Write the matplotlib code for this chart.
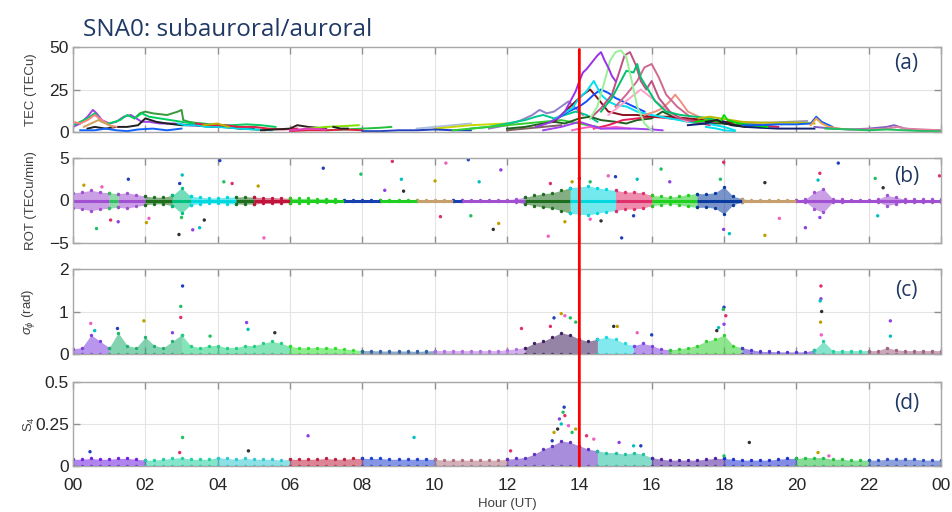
import numpy as np
import matplotlib
matplotlib.use('Agg')
import matplotlib.pyplot as plt
from matplotlib.patches import ConnectionPatch

plt.rcParams['font.family'] = ['Liberation Sans', 'DejaVu Sans']
plt.rcParams['mathtext.fontset'] = 'custom'
plt.rcParams['mathtext.rm'] = 'Liberation Sans'
plt.rcParams['mathtext.it'] = 'Liberation Sans:italic'

# ---------------- data ----------------
# hour ticks
hour_ticks = [0, 2, 4, 6, 8, 10, 12, 14, 16, 18, 20, 22, 24]
hour_labels = ['00', '02', '04', '06', '08', '10', '12', '14', '16', '18', '20', '22', '00']
storm_hour = 14.0

# (a) TEC tracks, one pair of lists per satellite (hour, TECu)
tec_t_g1 = [1.7, 1.85, 2.0, 2.2, 2.4, 2.6, 2.75, 2.9, 3.0, 3.05, 3.2, 3.5, 3.8, 4.1, 4.4, 4.7, 5.0, 5.3]
tec_v_g1 = [8, 11, 12, 11, 10.5, 10, 11, 12, 13, 7, 6, 5, 4, 3, 2.5, 2, 1.5, 1]
tec_t_p1 = [0.0, 0.2, 0.4, 0.55, 0.65, 0.8, 1.0, 1.2, 1.4, 1.6, 1.75, 1.9, 2.1, 2.4, 2.8, 3.2, 3.6]
tec_v_p1 = [3, 5, 9, 13, 11, 7, 5, 6, 9, 10, 8, 6, 6, 5, 5, 4, 3.5]
tec_t_g2 = [0, 0.2, 0.4, 0.6, 0.8, 1.0, 1.3, 1.5, 1.7, 1.9, 2.1, 2.4, 2.7, 3.0, 3.3, 3.6, 4.0, 4.4, 4.8, 5.2, 5.6]
tec_v_g2 = [4, 6, 8, 11, 6, 5, 7, 10, 8, 11, 9, 8, 7, 6, 5, 5, 4, 4, 4.5, 4, 3]
tec_t_k1 = [0.4, 0.6, 0.9, 1.2, 1.5, 1.8, 2.0, 2.3, 2.6, 3.0, 3.4, 3.8, 4.2, 4.6, 5.0]
tec_v_k1 = [2, 3, 2, 3, 3, 4, 8, 6, 5, 4, 4, 3, 3, 2, 2]
tec_t_c1 = [2.9, 3.1, 3.4, 3.7, 4.0, 4.3, 4.6, 5.0, 5.5]
tec_v_c1 = [5, 4, 4, 3, 3, 2.5, 2, 1.5, 1]
tec_t_b1 = [0.2, 0.6, 0.9, 1.2, 1.5, 1.8, 2.2, 2.6, 3.0]
tec_v_b1 = [1, 1, 2, 1, 0.5, 1.5, 2, 1, 2]
tec_t_s1 = [0, 0.2, 0.4, 0.6, 0.8, 1.0, 1.2]
tec_v_s1 = [6, 5, 7, 10, 7, 4, 3]
tec_t_o1 = [0.3, 0.5, 0.7, 0.9, 1.1]
tec_v_o1 = [3, 5, 7, 5, 3]
tec_t_r1 = [3.4, 3.8, 4.2, 4.6, 5.0, 5.4, 5.8, 6.2]
tec_v_r1 = [5, 4, 4, 3, 3, 2, 1.5, 2]
tec_t_y1 = [3.6, 4.0, 4.3]
tec_v_y1 = [4, 5, 3]
tec_t_k2 = [5.2, 5.6, 6.0, 6.2, 6.5, 7.0]
tec_v_k2 = [1, 1.5, 2, 4, 3, 2]
tec_t_l1 = [6.5, 7.0, 7.5, 7.9]
tec_v_l1 = [2, 3, 3.5, 4]
tec_t_g3 = [7.0, 7.5, 8.0, 8.5, 8.8]
tec_v_g3 = [1, 1.5, 2, 2.5, 3]
tec_t_st = [9.5, 10.0, 10.5, 11.0]
tec_v_st = [2, 3, 4, 5]
tec_t_y2 = [10.0, 10.5, 11.0, 11.5, 12.0]
tec_v_y2 = [2, 3, 4, 4.5, 5]
tec_t_r2 = [6.0, 6.5, 7.0, 7.5, 8.0]
tec_v_r2 = [0.5, 1, 1, 1.5, 1]
tec_t_b2 = [8.0, 8.5, 9.0, 9.5, 10, 10.5, 11]
tec_v_b2 = [0.5, 0.5, 1, 1, 1.5, 1, 1]
tec_t_k3 = [7.2, 7.4, 7.6]
tec_v_k3 = [3, 2, 2]
tec_t_m1 = [6, 6.5, 7]
tec_v_m1 = [1, 2, 1.5]
tec_t_lv = [11.5, 12.0, 12.4, 12.7, 12.9, 13.1, 13.3, 13.5, 13.7, 13.9, 14.1]
tec_v_lv = [2, 4, 7, 10, 13, 11, 12, 15, 18, 14, 10]
tec_t_tg = [11.0, 11.5, 12.0, 12.5, 12.8, 13.0, 13.3, 13.6, 13.9, 14.2, 14.5]
tec_v_tg = [2, 3, 5, 7, 9, 10, 8, 10, 12, 10, 6]
tec_t_g4 = [10.5, 11.0, 11.5, 12.0, 12.5, 13.0, 13.5, 14.0, 14.5]
tec_v_g4 = [1, 2, 3, 4, 5, 6, 7, 5, 3]
tec_t_dg = [12.0, 12.5, 13.0, 13.3, 13.6, 14.0, 14.3, 14.6, 15.0, 15.3, 15.6, 16.0, 16.3, 16.6, 17.0, 17.5, 18.0, 18.5, 19.0]
tec_v_dg = [2, 3, 5, 6, 5, 8, 9, 7, 6, 5, 7, 8, 12, 9, 6, 5, 5, 4, 3]
tec_t_pb = [12.8, 13.1, 13.4, 13.6, 13.8, 13.9, 14.0, 14.1, 14.2, 14.35, 14.5, 14.6, 14.7, 14.8, 14.9, 15.0]
tec_v_pb = [3, 5, 8, 12, 20, 24, 30, 35, 37, 41, 45, 47, 42, 38, 33, 30]
tec_t_pl = [13.0, 13.5, 14.0, 14.3, 14.6, 15.0, 15.5, 16.0, 16.3]
tec_v_pl = [1, 3, 6, 4, 2, 2, 2, 1.5, 1]
tec_t_lg = [14.3, 14.5, 14.7, 14.85, 15.0, 15.15, 15.3, 15.45, 15.6, 15.8, 16.0]
tec_v_lg = [8, 15, 30, 42, 47, 48, 44, 30, 15, 5, 1]
tec_t_mv = [14.3, 14.6, 14.9, 15.1, 15.25, 15.4, 15.55, 15.7, 15.85, 16.0, 16.2, 16.5, 16.8, 17.2, 17.6]
tec_v_mv = [8, 14, 22, 35, 45, 47, 40, 30, 25, 30, 20, 12, 8, 6, 4]
tec_t_rs = [15.0, 15.3, 15.6, 15.8, 16.0, 16.2, 16.4, 16.7, 17.0]
tec_v_rs = [15, 22, 30, 38, 40, 32, 22, 15, 10]
tec_t_te = [14.6, 14.9, 15.1, 15.3, 15.5, 15.6, 15.7, 15.9, 16.1, 16.4, 16.8, 17.2, 17.6, 18.0]
tec_v_te = [12, 20, 28, 36, 35, 40, 32, 25, 18, 12, 10, 9, 8, 6]
tec_t_b3 = [13.4, 13.7, 14.0, 14.2, 14.4, 14.6, 14.8, 15.0, 15.2, 15.4, 15.6, 15.8]
tec_v_b3 = [8, 12, 15, 18, 22, 25, 23, 20, 18, 16, 14, 12]
tec_t_c2 = [13.2, 13.5, 13.8, 14.0, 14.2, 14.4, 14.6, 14.8, 15.0, 15.3, 15.6, 16.0, 16.5, 17.0, 17.5, 18.0, 18.3]
tec_v_c2 = [6, 10, 14, 20, 24, 30, 22, 18, 16, 15, 12, 10, 8, 6, 5, 3, 1]
tec_t_dr = [13.3, 13.6, 13.9, 14.1, 14.3, 14.5, 14.8, 15.2, 15.6, 16.0, 16.5, 17.0, 17.5, 18.0, 18.5, 19.0]
tec_v_dr = [6, 12, 18, 22, 25, 20, 12, 10, 10, 9, 9, 8, 7, 6, 5, 4]
tec_t_pk = [14.8, 15.1, 15.4, 15.7, 16.0, 16.3, 16.6, 17.0]
tec_v_pk = [10, 15, 20, 25, 20, 15, 10, 6]
tec_t_s2 = [15.8, 16.1, 16.3, 16.5, 16.65, 16.8, 17.0, 17.3, 17.6]
tec_v_s2 = [10, 12, 14, 18, 22, 18, 12, 9, 7]
tec_t_cr = [14.4, 14.8, 15.2, 15.6, 16.0, 16.5, 17.0, 17.5, 18.0, 18.5, 19.0, 19.5]
tec_v_cr = [2, 4, 7, 8, 9, 8, 7, 6, 6, 5, 4, 3]
tec_t_m2 = [13.8, 14.0, 14.3, 14.6, 15.0, 15.4]
tec_v_m2 = [1, 2, 3, 2, 3, 2]
tec_t_gb = [12.0, 12.5, 13.0, 13.5]
tec_v_gb = [1, 2, 3, 4]
tec_t_ol = [17.3, 17.6, 17.9, 18.2, 18.5, 19.0, 19.5, 20.0, 20.5]
tec_v_ol = [8, 9, 8, 7, 6, 5.5, 5.5, 5.5, 5]
tec_t_nv = [17.0, 17.5, 17.8, 18.0, 18.2, 18.6, 19.0, 19.5, 20.0, 20.5]
tec_v_nv = [4, 5, 7, 6, 4, 3, 2.5, 2, 2, 2]
tec_t_g5 = [17.2, 17.6, 17.9, 18.0, 18.1, 18.4, 18.8, 19.2]
tec_v_g5 = [6, 7, 6, 10, 7, 5, 4, 3]
tec_t_k4 = [17.5, 17.8, 18.0, 18.3, 18.6]
tec_v_k4 = [6, 7, 5, 4, 3]
tec_t_c3 = [17.5, 17.8, 18.0, 18.3]
tec_v_c3 = [3, 2, 1, 0.5]
tec_t_b4 = [18.5, 19.0, 19.5, 20.0, 20.4, 20.55, 20.7, 21.0]
tec_v_b4 = [4, 4, 4.5, 4.5, 5, 9, 6, 3]
tec_t_o2 = [20.4, 20.55, 20.7, 20.9, 21.2]
tec_v_o2 = [4, 8, 5, 3, 2]
tec_t_p3 = [20.5, 21, 21.5, 22, 22.5, 22.7, 23, 23.5, 24]
tec_v_p3 = [3, 2, 1.5, 2, 3, 4, 2, 1, 1]
tec_t_p4 = [21, 21.5, 22, 22.5, 22.8, 23, 23.5, 24]
tec_v_p4 = [2, 1.5, 1.5, 2, 3, 2, 1.5, 1]
tec_t_g6 = [20.8, 21.5, 22, 22.5, 23, 23.5, 24]
tec_v_g6 = [2, 1.5, 1, 1.5, 1, 0.5, 0.5]
tec_t_gr = [18.3, 18.8, 19.3, 19.8, 20.3]
tec_v_gr = [5, 5.5, 5.5, 6, 6.5]

# (b)-(d) envelopes of the dense scatter, read every quarter hour
env_hours = np.arange(0, 24.01, 0.25)
rot_amp = [0.9, 1.0, 1.2, 1.0, 0.9, 0.8, 0.9, 0.7, 0.5, 0.4, 0.4, 0.6,
           1.5, 0.5, 0.4, 0.3, 0.3, 0.4, 0.4, 0.45, 0.4, 0.35, 0.35, 0.3,
           0.25, 0.25, 0.25, 0.2, 0.2, 0.15, 0.08, 0.06, 0.06, 0.06, 0.06, 0.08,
           0.08, 0.06, 0.06, 0.06, 0.06, 0.06, 0.06, 0.06, 0.06, 0.06, 0.06, 0.06,
           0.1, 0.2, 0.4, 0.6, 0.8, 0.9, 1.2, 1.5, 1.6, 1.7, 1.5, 1.3,
           1.2, 1.0, 1.0, 0.9, 0.6, 0.5, 0.4, 0.5, 0.7, 0.8, 0.8, 0.9,
           1.6, 0.5, 0.2, 0.1, 0.08, 0.08, 0.08, 0.1, 0.1, 0.15, 1.0, 1.4,
           0.2, 0.12, 0.1, 0.1, 0.1, 0.15, 0.6, 0.4, 0.15, 0.12, 0.12, 0.12, 0.12]
sig_top = [0.12, 0.15, 0.45, 0.3, 0.15, 0.5, 0.2, 0.15, 0.4, 0.2, 0.15, 0.3,
           0.45, 0.2, 0.15, 0.2, 0.2, 0.15, 0.15, 0.2, 0.2, 0.25, 0.3, 0.25,
           0.18, 0.15, 0.15, 0.15, 0.15, 0.14, 0.12, 0.1, 0.08, 0.08, 0.07, 0.07,
           0.07, 0.07, 0.06, 0.07, 0.08, 0.08, 0.08, 0.08, 0.08, 0.08, 0.08, 0.08,
           0.1, 0.12, 0.15, 0.25, 0.3, 0.4, 0.5, 0.45, 0.35, 0.3, 0.35, 0.4,
           0.35, 0.25, 0.2, 0.25, 0.2, 0.12, 0.1, 0.12, 0.15, 0.2, 0.3, 0.35,
           0.45, 0.2, 0.15, 0.1, 0.06, 0.06, 0.05, 0.05, 0.05, 0.05, 0.1, 0.3,
           0.08, 0.08, 0.08, 0.08, 0.08, 0.08, 0.15, 0.1, 0.08, 0.08, 0.08, 0.08, 0.08]
s4_top = [0.04, 0.04, 0.045, 0.04, 0.04, 0.045, 0.045, 0.04, 0.035, 0.035, 0.04, 0.045,
          0.05, 0.04, 0.04, 0.04, 0.05, 0.045, 0.04, 0.045, 0.04, 0.04, 0.04, 0.035,
          0.04, 0.04, 0.04, 0.04, 0.045, 0.04, 0.04, 0.045, 0.045, 0.045, 0.045, 0.04,
          0.04, 0.04, 0.04, 0.04, 0.04, 0.035, 0.035, 0.035, 0.035, 0.035, 0.035, 0.035,
          0.04, 0.045, 0.05, 0.07, 0.1, 0.12, 0.15, 0.14, 0.12, 0.1, 0.09, 0.08,
          0.08, 0.07, 0.08, 0.07, 0.05, 0.04, 0.035, 0.035, 0.035, 0.035, 0.04, 0.045,
          0.045, 0.04, 0.035, 0.035, 0.035, 0.035, 0.04, 0.045, 0.045, 0.05, 0.05, 0.05,
          0.04, 0.04, 0.035, 0.035, 0.035, 0.035, 0.04, 0.04, 0.04, 0.04, 0.035, 0.035, 0.035]

# colour blocks of the scatter clouds (start hour, end hour, colour)
rot_blocks = [(0, 1, '#a050d0'), (1, 1.25, '#30c060'), (1.25, 2, '#a050d0'), (2, 2.75, '#1e6e1e'),
              (2.75, 3.25, '#00c080'), (3.25, 4.5, '#00d8e0'), (4.5, 5, '#1e6e1e'), (5, 6, '#c0143c'),
              (6, 7.5, '#20d020'), (7.5, 8.5, '#1840b0'), (8.5, 9.5, '#20d020'), (9.5, 10.5, '#c8a070'),
              (10.5, 10.75, '#1840b0'), (10.75, 12.5, '#a050d0'), (12.5, 13.75, '#1e6e1e'),
              (13.75, 15, '#00d8e0'), (15, 16, '#e0306a'), (16, 17.25, '#20d020'), (17.25, 18.5, '#0a3ca0'),
              (18.5, 20, '#c8a070'), (20, 24, '#a050d0')]
sig_blocks = [(0, 1, '#8040e0'), (1, 3, '#20b070'), (3, 6, '#20d080'), (6, 8, '#30e030'),
              (8, 10, '#3060a0'), (10, 12.5, '#b070e0'), (12.5, 14.5, '#402060'), (14.5, 15.5, '#20d8e0'),
              (15.5, 16.5, '#8040e0'), (16.5, 18.5, '#30d030'), (18.5, 20.5, '#5030d0'),
              (20.5, 22, '#20d0a0'), (22, 24, '#a06080')]
s4_blocks = [(0, 2, '#7020e0'), (2, 4, '#20d0a0'), (4, 6, '#30c8d0'), (6, 8, '#c02040'),
             (8, 10, '#2040d0'), (10, 12, '#b07080'), (12, 14.5, '#6030c0'), (14.5, 16, '#20c0a0'),
             (16, 18, '#5020a0'), (18, 20, '#2030d0'), (20, 22, '#20c040'), (22, 24, '#3050c0')]

# isolated points outside the clouds (hour, value)
rot_out_t = [1.53, 0.65, 1.04, 1.25, 3.02, 2.93, 2.03, 2.1, 4.06, 4.17, 4.4, 3.31, 3.5, 3.63, 5.12, 5.28,
             6.92, 7.96, 8.83, 8.62, 9.08, 9.14, 10.01, 10.31, 10.93, 11.0, 10.16, 11.83, 11.23, 11.62,
             11.77, 13.14, 15.17, 16.26, 17.99, 17.99, 18.15, 19.13, 19.13, 19.53, 21.16, 22.18, 23.96,
             20.25, 22.25, 14.0, 13.8, 14.8, 15.0, 14.3, 13.2, 16.5, 15.6, 14.6, 13.6, 14.3, 15.5, 17.9,
             20.65, 20.65, 20.6, 22.4, 0.3, 0.8, 2.95, 3.0]
rot_out_v = [2.5, -3.3, -2.3, -2.5, 3.0, -4.0, -2.6, -2.1, 4.7, 2.2, 2.0, -3.45, -3.2, -2.3, 1.7, -4.4,
             3.8, 3.1, 4.6, 1.2, 2.5, 1.1, 2.3, 4.4, 4.8, -1.8, -1.9, 3.6, 2.2, -3.4,
             -2.7, -4.2, -4.4, 3.7, 4.5, -3.4, -3.9, 2.1, -4.1, -2.1, 4.4, 2.6, 2.9,
             -3.2, -1.8, 2.6, 2.2, 2.9, 2.8, 2.2, 2.0, 2.2, 2.5, -2.4, -2.5, -2.2, -1.8, 2.5,
             3.2, -2.0, 2.4, 1.5, 1.8, 1.6, 2.0, -2.0]
sig_out_t = [3.03, 2.98, 2.98, 4.8, 4.84, 5.58, 1.96, 0.49, 1.23, 3.79, 20.68, 20.68, 20.66, 20.7,
             20.67, 20.69, 18.0, 17.98, 18.05, 18.0, 17.85, 17.8, 13.5, 13.6, 13.3, 13.75, 12.4,
             22.6, 22.6, 14.95, 15.05, 15.6, 16.0, 13.9, 13.2, 2.75, 0.6]
sig_out_v = [1.6, 1.12, 0.86, 0.74, 0.58, 0.5, 0.78, 0.72, 0.6, 0.42, 1.6, 1.3, 1.25, 1.0,
             0.75, 0.45, 1.1, 1.05, 0.9, 0.7, 0.62, 0.55, 0.95, 0.9, 0.85, 0.85, 0.6,
             0.78, 0.42, 0.65, 0.65, 0.5, 0.45, 0.75, 0.65, 0.5, 0.55]
s4_out_t = [13.58, 13.55, 13.6, 13.45, 13.5, 13.4, 13.3, 13.7, 13.25, 13.8, 14.2, 15.1, 15.5, 18.7,
            20.6, 20.9, 0.47, 3.03, 2.95, 6.5, 9.43, 4.85, 13.9, 14.4, 15.7, 18.0, 12.1]
s4_out_v = [0.35, 0.32, 0.3, 0.28, 0.25, 0.22, 0.2, 0.24, 0.15, 0.2, 0.18, 0.14, 0.12, 0.14,
            0.08, 0.06, 0.085, 0.17, 0.08, 0.18, 0.17, 0.09, 0.22, 0.16, 0.12, 0.06, 0.09]

dot_colors = ['#1f3fbf', '#20c060', '#e0306a', '#9040e0', '#00c0c0', '#303030', '#c0a000', '#f060c0']


def style_axes(ax, yticks, ylabel, ylim, tag, tag_y):
    ax.set_xlim(0, 24)
    ax.set_ylim(*ylim)
    ax.set_xticks(hour_ticks)
    ax.set_yticks(yticks)
    ax.grid(True, color='#e4e4e4', lw=0.8)
    ax.set_axisbelow(True)
    for s in ax.spines.values():
        s.set_color('#a8a8a8')
        s.set_linewidth(1.0)
    ax.tick_params(direction='in', top=True, right=True, length=5, width=1,
                   color='#909090', labelsize=12.5, labelcolor='#262626', pad=3)
    ax.tick_params(axis='x', pad=9)
    ax.set_ylabel(ylabel, fontsize=9.5, color='#404040')
    ax.yaxis.set_label_coords(-0.042, 0.5)
    ax.text(0.96, tag_y, tag, transform=ax.transAxes, ha='center', va='center',
            fontsize=15, color='#1f3864', family=['Open Sans', 'DejaVu Sans'])


def draw_cloud(ax, lower, upper, blocks, mid=None):
    low = np.asarray(lower)
    up = np.asarray(upper)
    for a, b, c in blocks:
        m = (env_hours >= a) & (env_hours <= b)
        ax.fill_between(env_hours[m], low[m], up[m], color=c, alpha=0.55, lw=0)
        ax.scatter(env_hours[m], up[m], s=6, color=c, lw=0)
        ax.scatter(env_hours[m], low[m], s=6, color=c, lw=0)
        if mid is not None:
            ax.plot(env_hours[m], np.full(m.sum(), mid), color=c, lw=2.2, solid_capstyle='butt')


fig = plt.figure(figsize=(9.52, 5.12), dpi=100)
left, width = 73 / 952, 868 / 952
ax_a = fig.add_axes([left, 1 - 132 / 512, width, 85 / 512])
ax_b = fig.add_axes([left, 1 - 243 / 512, width, 85 / 512])
ax_c = fig.add_axes([left, 1 - 354 / 512, width, 85 / 512])
ax_d = fig.add_axes([left, 1 - 466 / 512, width, 84 / 512])

# (a) TEC
tec_tracks = [
    (tec_t_g1, tec_v_g1, '#3a9a3a'), (tec_t_p1, tec_v_p1, '#a040e0'), (tec_t_g2, tec_v_g2, '#00d060'),
    (tec_t_k1, tec_v_k1, '#202020'), (tec_t_c1, tec_v_c1, '#00d8e8'), (tec_t_b1, tec_v_b1, '#1060ff'),
    (tec_t_s1, tec_v_s1, '#ff8080'), (tec_t_o1, tec_v_o1, '#d0a060'), (tec_t_r1, tec_v_r1, '#e0204a'),
    (tec_t_y1, tec_v_y1, '#c0b000'), (tec_t_k2, tec_v_k2, '#302020'), (tec_t_l1, tec_v_l1, '#80e000'),
    (tec_t_g3, tec_v_g3, '#20c040'), (tec_t_st, tec_v_st, '#b0c0e0'), (tec_t_y2, tec_v_y2, '#c8d800'),
    (tec_t_r2, tec_v_r2, '#e02040'), (tec_t_b2, tec_v_b2, '#2040c0'), (tec_t_k3, tec_v_k3, '#202020'),
    (tec_t_m1, tec_v_m1, '#e040c0'), (tec_t_lv, tec_v_lv, '#9080c8'), (tec_t_tg, tec_v_tg, '#00c890'),
    (tec_t_g4, tec_v_g4, '#30d030'), (tec_t_gb, tec_v_gb, '#806060'), (tec_t_dg, tec_v_dg, '#206020'),
    (tec_t_cr, tec_v_cr, '#e81e5a'), (tec_t_m2, tec_v_m2, '#ff60c0'), (tec_t_pl, tec_v_pl, '#a040f0'),
    (tec_t_dr, tec_v_dr, '#8b1020'), (tec_t_b3, tec_v_b3, '#1050ff'), (tec_t_c2, tec_v_c2, '#00e0f0'),
    (tec_t_pk, tec_v_pk, '#ffa0c8'), (tec_t_s2, tec_v_s2, '#f09080'), (tec_t_rs, tec_v_rs, '#d06890'),
    (tec_t_mv, tec_v_mv, '#c05080'), (tec_t_te, tec_v_te, '#00c070'), (tec_t_lg, tec_v_lg, '#98f098'),
    (tec_t_pb, tec_v_pb, '#9a32e6'), (tec_t_gr, tec_v_gr, '#a0a0b0'), (tec_t_ol, tec_v_ol, '#b8b800'),
    (tec_t_nv, tec_v_nv, '#102070'), (tec_t_g5, tec_v_g5, '#00e000'), (tec_t_k4, tec_v_k4, '#202020'),
    (tec_t_c3, tec_v_c3, '#00e0f0'), (tec_t_b4, tec_v_b4, '#1060f0'), (tec_t_o2, tec_v_o2, '#f0a050'),
    (tec_t_p3, tec_v_p3, '#8060c0'), (tec_t_p4, tec_v_p4, '#e080a0'), (tec_t_g6, tec_v_g6, '#20c060'),
]
for t, v, c in tec_tracks:
    ax_a.plot(t, v, color=c, lw=1.4)
style_axes(ax_a, [0, 25, 50], 'TEC (TECu)', (0, 50), '(a)', 0.81)

# (b) ROT
amp = np.asarray(rot_amp)
draw_cloud(ax_b, -amp, amp, rot_blocks, mid=0)
ax_b.scatter(rot_out_t, rot_out_v, s=6, lw=0,
             c=[dot_colors[i % len(dot_colors)] for i in range(len(rot_out_t))])
style_axes(ax_b, [-5, 0, 5], 'ROT (TECu/min)', (-5, 5), '(b)', 0.78)

# (c) sigma phi
draw_cloud(ax_c, np.zeros(len(env_hours)), sig_top, sig_blocks)
ax_c.scatter(sig_out_t, sig_out_v, s=6, lw=0,
             c=[dot_colors[i % len(dot_colors)] for i in range(len(sig_out_t))])
style_axes(ax_c, [0, 1, 2], r'$\sigma_\phi$ (rad)', (0, 2), '(c)', 0.75)

# (d) S4
draw_cloud(ax_d, np.zeros(len(env_hours)), s4_top, s4_blocks)
ax_d.scatter(s4_out_t, s4_out_v, s=6, lw=0,
             c=[dot_colors[i % len(dot_colors)] for i in range(len(s4_out_t))])
style_axes(ax_d, [0, 0.25, 0.5], r'$\mathregular{S_4}$', (0, 0.5), '(d)', 0.75)
ax_d.set_yticklabels(['0', '0.25', '0.5'])

for ax in (ax_a, ax_b, ax_c):
    ax.set_xticklabels([])
ax_d.set_xticklabels(hour_labels)
ax_d.set_xlabel('Hour (UT)', fontsize=9.5, color='#404040', labelpad=3)

# storm onset line through all panels
con = ConnectionPatch(xyA=(storm_hour, 48.5), coordsA=ax_a.transData,
                      xyB=(storm_hour, 0), coordsB=ax_d.transData,
                      color='#ff0000', lw=2, zorder=10)
fig.add_artist(con)

fig.text(83 / 952, 1 - 36 / 512, 'SNA0: subauroral/auroral', fontsize=17.5,
         color='#1f3864', family=['Open Sans', 'DejaVu Sans'], va='baseline')

fig.savefig('out.png', dpi=100)
